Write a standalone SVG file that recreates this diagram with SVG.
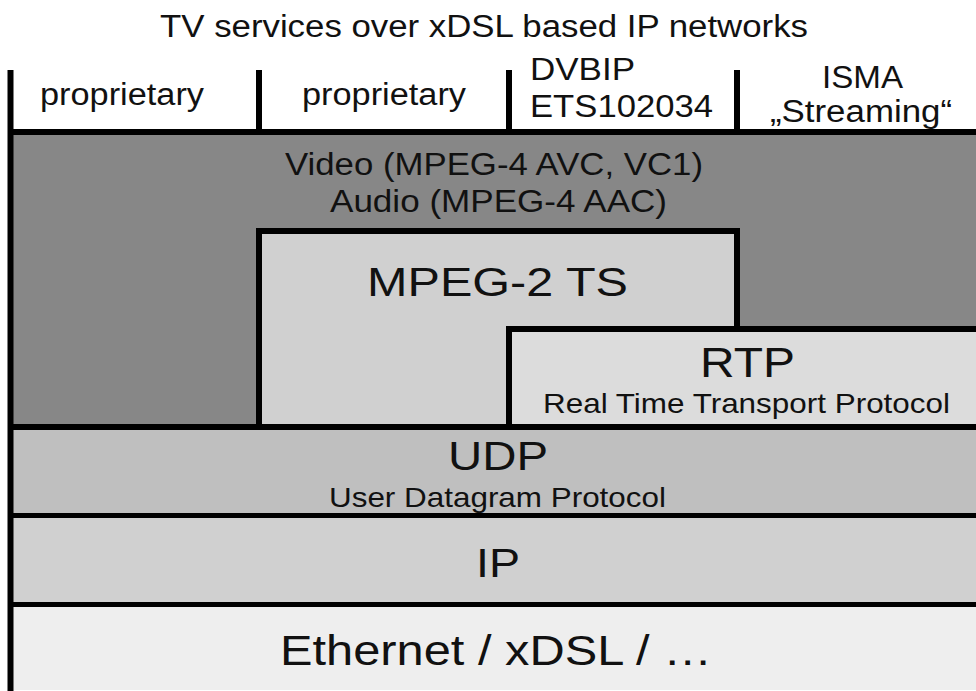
<svg xmlns="http://www.w3.org/2000/svg" width="976" height="691" viewBox="0 0 976 691" font-family="'Liberation Sans', Arial, Helvetica, sans-serif">
<style>
  text { font-family: "Liberation Sans", Arial, Helvetica, sans-serif; fill: #111; }
  .hdr { font-size: 31px; }
  .big { font-size: 41px; }
  .sub { font-size: 28px; }
  .ln { stroke: #000; fill: none; }
</style>
<rect x="0" y="0" width="976" height="691" fill="#fff"/>

<g id="title">
  <text class="hdr" x="160" y="37" textLength="648" lengthAdjust="spacingAndGlyphs">TV services over xDSL based IP networks</text>
</g>

<g id="codec-layer">
  <rect x="13" y="135" width="963" height="290" fill="#878787"/>
  <text class="hdr" x="285" y="175" textLength="418" lengthAdjust="spacingAndGlyphs">Video (MPEG-4 AVC, VC1)</text>
  <text class="hdr" x="330" y="212" textLength="337" lengthAdjust="spacingAndGlyphs">Audio (MPEG-4 AAC)</text>
</g>

<g id="mpeg2ts">
  <rect x="259" y="231" width="478" height="196" fill="#d0d0d0" stroke="#000" stroke-width="6"/>
  <text class="big" x="367" y="296" textLength="261" lengthAdjust="spacingAndGlyphs">MPEG-2 TS</text>
</g>

<g id="rtp">
  <rect x="509" y="329" width="480" height="98" fill="#dcdcdc" stroke="#000" stroke-width="6"/>
  <text x="700" y="377" style="font-size:43px" textLength="95" lengthAdjust="spacingAndGlyphs">RTP</text>
  <text class="sub" x="543" y="413" textLength="407" lengthAdjust="spacingAndGlyphs">Real Time Transport Protocol</text>
</g>

<g id="udp">
  <rect x="13" y="430" width="963" height="83" fill="#bfbfbf"/>
  <text class="big" x="448" y="470" textLength="100" lengthAdjust="spacingAndGlyphs">UDP</text>
  <text class="sub" x="329" y="507" textLength="337" lengthAdjust="spacingAndGlyphs">User Datagram Protocol</text>
</g>

<g id="ip">
  <rect x="13" y="518" width="963" height="84" fill="#d0d0d0"/>
  <text class="big" x="476" y="577" textLength="44" lengthAdjust="spacingAndGlyphs">IP</text>
</g>

<g id="ethernet">
  <rect x="13" y="607" width="963" height="83" fill="#eeeeee"/>
  <text x="280" y="665" style="font-size:42px" textLength="432" lengthAdjust="spacingAndGlyphs">Ethernet / xDSL / …</text>
</g>

<g id="app-proprietary-1">
  <text class="hdr" x="40" y="105" textLength="164" lengthAdjust="spacingAndGlyphs">proprietary</text>
</g>
<g id="app-proprietary-2">
  <text class="hdr" x="302" y="105" textLength="164" lengthAdjust="spacingAndGlyphs">proprietary</text>
</g>
<g id="app-dvbip">
  <text class="hdr" x="530" y="80" textLength="105" lengthAdjust="spacingAndGlyphs">DVBIP</text>
  <text class="hdr" x="530" y="117" textLength="183" lengthAdjust="spacingAndGlyphs">ETS102034</text>
</g>
<g id="app-isma">
  <text class="hdr" x="822" y="88" textLength="81" lengthAdjust="spacingAndGlyphs">ISMA</text>
  <text class="hdr" x="770" y="122" textLength="182" lengthAdjust="spacingAndGlyphs">„Streaming“</text>
</g>

<g id="connectors">
  <line class="ln" x1="10.5" y1="70" x2="10.5" y2="691" stroke-width="6"/>
  <line class="ln" x1="8" y1="132" x2="976" y2="132" stroke-width="6"/>
  <line class="ln" x1="259" y1="70" x2="259" y2="132" stroke-width="6"/>
  <line class="ln" x1="509" y1="70" x2="509" y2="132" stroke-width="6"/>
  <line class="ln" x1="737" y1="70" x2="737" y2="132" stroke-width="6"/>
  <line class="ln" x1="8" y1="427" x2="976" y2="427" stroke-width="6"/>
  <line class="ln" x1="8" y1="515.5" x2="976" y2="515.5" stroke-width="5"/>
  <line class="ln" x1="8" y1="604.5" x2="976" y2="604.5" stroke-width="5"/>
</g>
</svg>
